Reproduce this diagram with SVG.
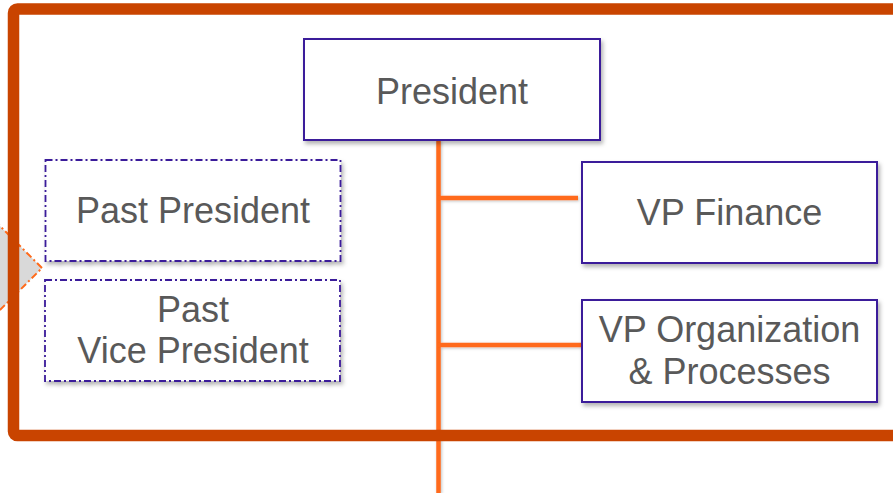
<svg xmlns="http://www.w3.org/2000/svg" width="893" height="493" viewBox="0 0 893 493">
  <defs>
    <filter id="sh" x="-10%" y="-10%" width="130%" height="140%">
      <feDropShadow dx="2" dy="3" stdDeviation="2" flood-color="#000" flood-opacity="0.3"/>
    </filter>
    <filter id="lsh" x="-200%" y="-10%" width="500%" height="120%">
      <feDropShadow dx="1" dy="1" stdDeviation="1.5" flood-color="#000" flood-opacity="0.25"/>
    </filter>
  </defs>
  <style>
    .box { fill: #ffffff; stroke: #3a1a9a; stroke-width: 2; }
    .past { fill: #ffffff; stroke: #3a1a9a; stroke-width: 1.8; stroke-dasharray: 7 3 2 3; }
    .lbl { font-family: "Liberation Sans", Arial, sans-serif; font-size: 36px; fill: #595959; text-anchor: middle; }
    .conn { stroke: #ff6a1a; stroke-width: 4.5; fill: none; }
  </style>
  <rect width="893" height="493" fill="#ffffff"/>

  <!-- gray diamond at left edge -->
  <polygon points="42,268 -3,223 -48,268 -3,313" fill="#d9d9d9" stroke="#ff6a1a" stroke-width="2" stroke-dasharray="7 3 2 3"/>

  <!-- connectors -->
  <g id="connectors" filter="url(#lsh)">
    <line class="conn" x1="438.5" y1="140" x2="438.5" y2="493"/>
    <line class="conn" x1="438.5" y1="198" x2="578" y2="198"/>
    <line class="conn" x1="438.5" y1="345" x2="582" y2="345"/>
  </g>

  <!-- outer frame -->
  <rect x="13.5" y="9" width="900" height="426.5" rx="4" fill="none" stroke="#c94400" stroke-width="11.5"/>

  <g id="president">
    <rect class="box" x="304" y="39" width="296" height="101" filter="url(#sh)"/>
    <text class="lbl" x="452" y="104">President</text>
  </g>

  <g id="vp-finance">
    <rect class="box" x="582" y="162" width="295" height="101" filter="url(#sh)"/>
    <text class="lbl" x="729.5" y="225">VP Finance</text>
  </g>

  <g id="vp-organization">
    <rect class="box" x="582" y="300" width="295" height="102" filter="url(#sh)"/>
    <text class="lbl" x="729.5" y="342">VP Organization</text>
    <text class="lbl" x="729.5" y="384">&amp; Processes</text>
  </g>

  <g id="past-president">
    <rect class="past" x="45.5" y="160" width="295" height="101" filter="url(#sh)"/>
    <text class="lbl" x="193" y="223">Past President</text>
  </g>

  <g id="past-vice-president">
    <rect class="past" x="45" y="280" width="295" height="101" filter="url(#sh)"/>
    <text class="lbl" x="193" y="322">Past</text>
    <text class="lbl" x="193" y="363">Vice President</text>
  </g>
</svg>
